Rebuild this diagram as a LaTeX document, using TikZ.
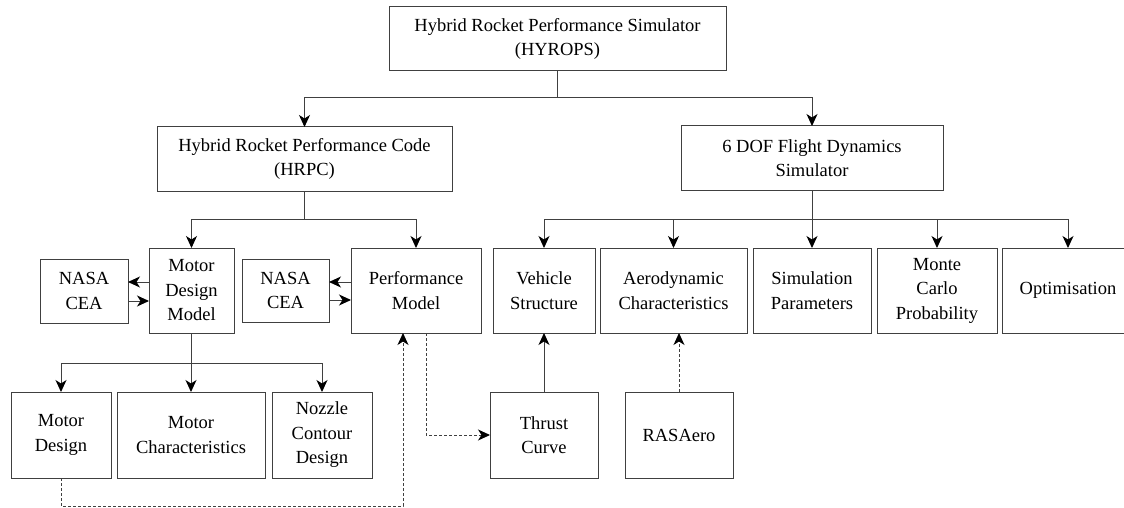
\documentclass[tikz,border=0pt]{standalone}
\usepackage{fontspec}
\setmainfont{Liberation Serif}
\usetikzlibrary{arrows.meta,calc}
\definecolor{linec}{RGB}{64,64,64}
\tikzset{
  box/.style={draw=linec, line width=1pt, fill=white, align=center, inner sep=0pt, outer sep=0pt,
              font=\rmfamily\fontsize{18.5}{24.5}\selectfont},
  arr/.style={draw=linec, line width=1pt, -{Stealth[length=12pt,width=11pt,inset=3.5pt,color=black]}},
  link/.style={draw=linec, line width=1pt},
  dsh/.style={dash pattern=on 3pt off 2pt}
}
\begin{document}
\begin{tikzpicture}[x=1pt,y=-1pt]
\clip (0,0) rectangle (1124,508);
\fill[white] (0,0) rectangle (1124,508);

% top level
\node[box, minimum width=337pt, minimum height=64pt] (top) at (557.5,39) {Hybrid Rocket Performance Simulator\\(HYROPS)};

% second level
\node[box, minimum width=295pt, minimum height=64pt] (hrpc) at (304.5,159) {Hybrid Rocket Performance Code\\(HRPC)};
\node[box, minimum width=262pt, minimum height=64pt] (dof) at (812,158) {6 DOF Flight Dynamics\\Simulator};

% HRPC modules
\node[box, minimum width=88pt, minimum height=64pt] (cea1) at (84,291) {NASA\\CEA};
\node[box, minimum width=85pt, minimum height=85pt] (mdm) at (191.5,290.5) {Motor\\Design\\Model};
\node[box, minimum width=87pt, minimum height=63pt] (cea2) at (285.5,290.5) {NASA\\CEA};
\node[box, minimum width=130pt, minimum height=85pt] (pm) at (416,290.5) {Performance\\Model};

% flight dynamics modules
\node[box, minimum width=102pt, minimum height=85pt] (vs) at (544,290.5) {Vehicle\\Structure};
\node[box, minimum width=147pt, minimum height=85pt] (aero) at (673.5,290.5) {Aerodynamic\\Characteristics};
\node[box, minimum width=118pt, minimum height=85pt] (simp) at (812,290.5) {Simulation\\Parameters};
\node[box, minimum width=120pt, minimum height=85pt] (mc) at (937,290.5) {Monte\\Carlo\\Probability};
\node[box, minimum width=132pt, minimum height=85pt] (opt) at (1068,290.5) {Optimisation};

% bottom row
\node[box, minimum width=100pt, minimum height=86pt] (md) at (61,435) {Motor\\Design};
\node[box, minimum width=148pt, minimum height=86pt] (mch) at (191,435) {Motor\\Characteristics};
\node[box, minimum width=100pt, minimum height=86pt] (noz) at (322,435) {Nozzle\\Contour\\Design};
\node[box, minimum width=108pt, minimum height=86pt] (tc) at (544,435) {Thrust\\Curve};
\node[box, minimum width=108pt, minimum height=86pt] (ras) at (679,435) {RASAero};

% tree from the simulator
\coordinate (j0) at ($(top.south)+(0,27)$);
\draw[link] (top.south) -- (j0);
\draw[arr] (j0) -| (hrpc.north);
\draw[arr] (j0) -| (dof.north);

% tree from HRPC
\coordinate (j1) at ($(hrpc.south)+(0,28)$);
\draw[link] (hrpc.south) -- (j1);
\draw[arr] (j1) -| (mdm.north);
\draw[arr] (j1) -| (pm.north);

% tree from 6 DOF
\coordinate (j2) at ($(dof.south)+(0,29)$);
\draw[link] (dof.south) -- (j2);
\draw[arr] (j2) -| (vs.north);
\draw[arr] (j2) -| (aero.north);
\draw[arr] (j2) -- (simp.north);
\draw[arr] (j2) -| (mc.north);
\draw[arr] (j2) -| (opt.north);

% tree from motor design model
\coordinate (j3) at ($(mdm.south)+(0,30)$);
\draw[link] (mdm.south) -- (j3);
\draw[arr] (j3) -| (md.north);
\draw[arr] (j3) -| (mch.north);
\draw[arr] (j3) -| (noz.north);

% NASA CEA exchanges
\draw[arr] ([yshift=8.5pt]mdm.west) -- ([yshift=8.5pt]mdm.west -| cea1.east);
\draw[arr] ([yshift=-10pt]cea1.east) -- ([yshift=-10pt]cea1.east -| mdm.west);
\draw[arr] ([yshift=8.5pt]pm.west) -- ([yshift=8.5pt]pm.west -| cea2.east);
\draw[arr] ([yshift=-9.5pt]cea2.east) -- ([yshift=-9.5pt]cea2.east -| pm.west);

% feedback and data links
\draw[arr, dsh] (md.south) -- ++(0,28) -| ([xshift=-13pt]pm.south);
\draw[arr, dsh] ([xshift=10pt]pm.south) |- (tc.west);
\draw[arr] (tc.north) -- (vs.south);
\draw[arr, dsh] (ras.north) -- (ras.north |- aero.south);
\end{tikzpicture}
\end{document}
